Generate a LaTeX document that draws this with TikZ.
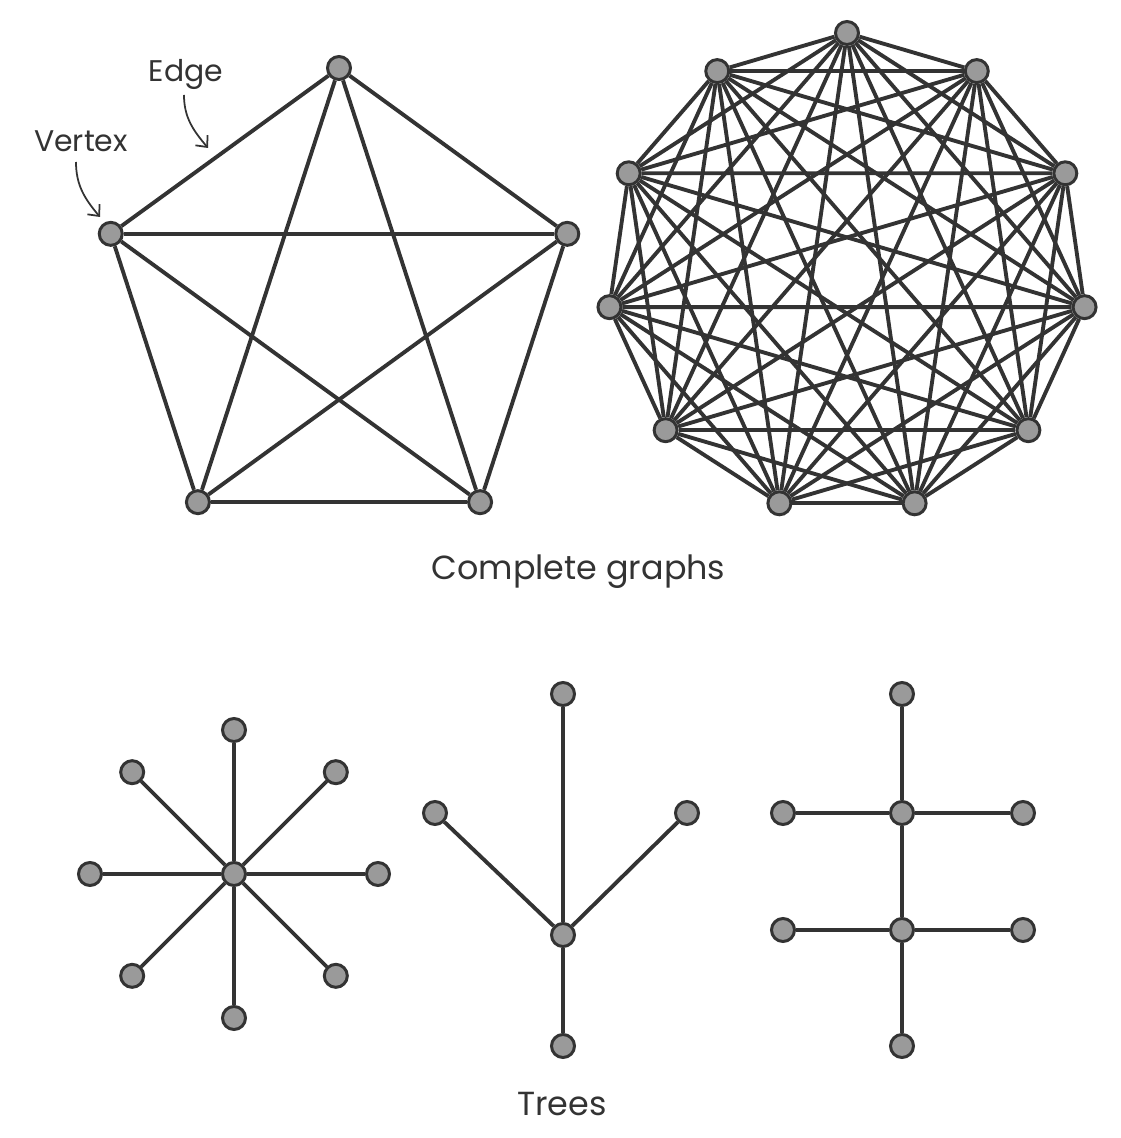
\documentclass[tikz,border=0pt]{standalone}
\usepackage{fontspec}
\setmainfont{Poppins}
\usetikzlibrary{positioning}
\usetikzlibrary{arrows.meta}
\usetikzlibrary{calc}

\definecolor{ink}{HTML}{333333}
\definecolor{dotgray}{HTML}{9A9A9A}

\tikzset{
  vtx/.style={circle, draw=ink, fill=dotgray, line width=1.7pt,
              minimum size=0.46cm, inner sep=0pt},
  lnk/.style={draw=ink, line width=2.2pt},
  pointer/.style={draw=ink, line width=1pt,
                  -{Straight Barb[length=5pt,width=9pt]}},
  title/.style={text=ink, anchor=base, font=\fontsize{19}{23}\selectfont},
  tag/.style={text=ink, anchor=base, font=\fontsize{17}{20}\selectfont}
}

\begin{document}
\begin{tikzpicture}[node distance=2cm, on grid]
   \useasboundingbox (0,0) rectangle (22.4,-22.76);

   % complete graph on 5 vertices
   \coordinate (pc) at (6.78,-6.16);
   \foreach \i in {0,...,4}
      \node[vtx] (p\i) at ($(pc)+(90+72*\i:4.8)$) {};
   \foreach \i in {0,...,3}{
      \pgfmathtruncatemacro\nxt{\i+1}
      \foreach \j in {\nxt,...,4}
         \draw[lnk] (p\i) -- (p\j);
   }

   % complete graph on 11 vertices
   \coordinate (kc) at (16.94,-5.46);
   \foreach \i in {0,...,10}
      \node[vtx] (k\i) at ($(kc)+(90+360/11*\i:4.8)$) {};
   \foreach \i in {0,...,9}{
      \pgfmathtruncatemacro\nxt{\i+1}
      \foreach \j in {\nxt,...,10}
         \draw[lnk] (k\i) -- (k\j);
   }

   % labels with pointers
   \node[tag] (edgelbl) at (3.72,-1.64) {Edge};
   \node[tag] (vtxlbl)  at (1.62,-3.04) {Vertex};
   \coordinate (edgefoot) at (3.68,-1.90);
   \coordinate (edgetip)  at (4.16,-2.96);
   \coordinate (vtxfoot)  at (1.52,-3.24);
   \coordinate (vtxtip)   at (2.00,-4.34);
   \draw[pointer] (edgefoot) to[out=-90, in=130] (edgetip);
   \draw[pointer] (vtxfoot) to[out=-90, in=130] (vtxtip);

   \node[title] (cgraphs) at (11.57,-11.58) {Complete graphs};

   % star
   \node[vtx] (hub) at (4.68,-17.48) {};
   \foreach \a in {0,45,...,315}{
      \node[vtx] (s\a) at ($(hub)+(\a:2.88)$) {};
      \draw[lnk] (hub) -- (s\a);
   }

   % fork
   \node[vtx] (m0) at (11.26,-18.70) {};
   \node[vtx, above=4.82cm of m0] (m1) {};
   \node[vtx, below=2.22cm of m0] (m2) {};
   \node[vtx, above left=2.44cm and 2.56cm of m0] (m3) {};
   \node[vtx, above right=2.44cm and 2.48cm of m0] (m4) {};
   \foreach \n in {1,...,4}
      \draw[lnk] (m0) -- (m\n);

   % spine with two rungs
   \node[vtx] (r0) at (18.04,-13.88) {};
   \node[vtx, below=2.38cm of r0] (r1) {};
   \node[vtx, below=2.34cm of r1] (r2) {};
   \node[vtx, below=2.32cm of r2] (r3) {};
   \node[vtx, left=2.38cm of r1]  (r4) {};
   \node[vtx, right=2.42cm of r1] (r5) {};
   \node[vtx, left=2.38cm of r2]  (r6) {};
   \node[vtx, right=2.42cm of r2] (r7) {};
   \draw[lnk] (r0) -- (r1) -- (r2) -- (r3);
   \draw[lnk] (r4) -- (r1) -- (r5);
   \draw[lnk] (r6) -- (r2) -- (r7);

   \node[title] (trees) at (11.24,-22.30) {Trees};
\end{tikzpicture}
\end{document}
